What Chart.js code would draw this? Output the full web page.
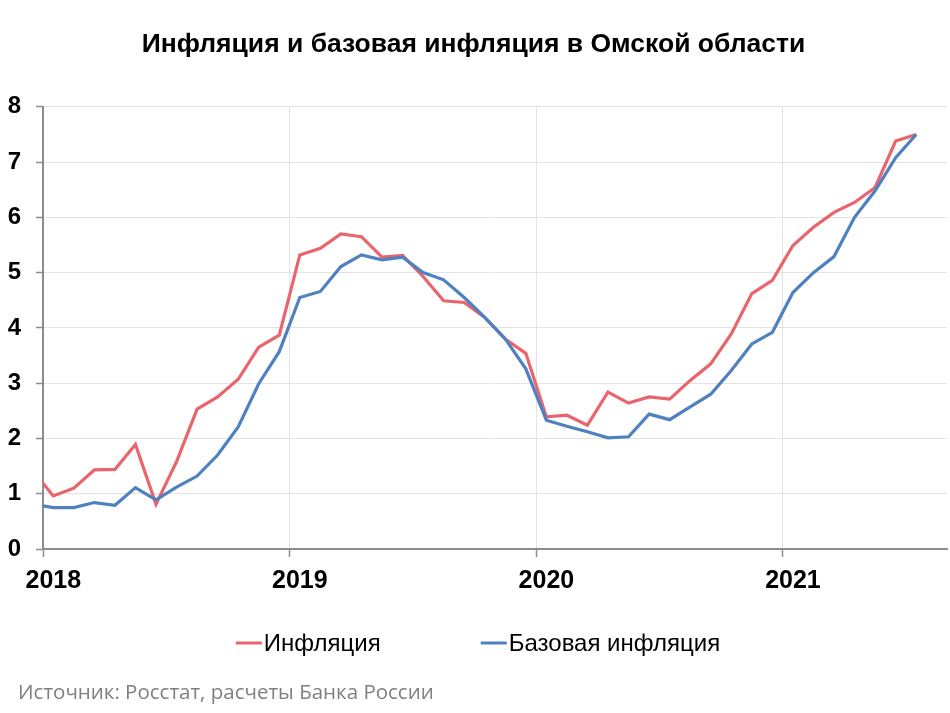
<!DOCTYPE html>
<html><head><meta charset="utf-8">
<script src="https://cdn.jsdelivr.net/npm/chart.js@4/dist/chart.umd.min.js"></script>
<style>html,body{margin:0;padding:0;background:#fff}canvas{display:block}</style>
</head><body>
<canvas id="c" width="950" height="713"></canvas>
<script>
const TITLE = 'Инфляция и базовая инфляция в Омской области';
const SOURCE = 'Источник: Росстат, расчеты Банка России';
const seriesNames = ['Инфляция', 'Базовая инфляция'];

const months = [
  '2017-12',
  '2018-01','2018-02','2018-03','2018-04','2018-05','2018-06','2018-07','2018-08','2018-09','2018-10','2018-11','2018-12',
  '2019-01','2019-02','2019-03','2019-04','2019-05','2019-06','2019-07','2019-08','2019-09','2019-10','2019-11','2019-12',
  '2020-01','2020-02','2020-03','2020-04','2020-05','2020-06','2020-07','2020-08','2020-09','2020-10','2020-11','2020-12',
  '2021-01','2021-02','2021-03','2021-04','2021-05','2021-06','2021-07'
];
const inflation = [
  1.42,
  0.96, 1.10, 1.43, 1.44, 1.89, 0.81, 1.58, 2.53, 2.75, 3.07, 3.65, 3.87,
  5.32, 5.44, 5.70, 5.65, 5.28, 5.31, 4.93, 4.49, 4.46, 4.19, 3.80, 3.54,
  2.39, 2.42, 2.24, 2.84, 2.64, 2.75, 2.71, 3.05, 3.35, 3.89, 4.62, 4.86,
  5.49, 5.82, 6.09, 6.27, 6.54, 7.38, 7.50
];
const coreInflation = [
  0.81,
  0.75, 0.75, 0.84, 0.79, 1.11, 0.89, 1.12, 1.32, 1.70, 2.21, 2.99, 3.57,
  4.55, 4.66, 5.11, 5.32, 5.23, 5.28, 5.00, 4.87, 4.55, 4.19, 3.80, 3.26,
  2.33, 2.22, 2.12, 2.01, 2.03, 2.44, 2.34, 2.57, 2.80, 3.23, 3.71, 3.92,
  4.64, 5.00, 5.29, 6.00, 6.48, 7.08, 7.50
];
const yearTicks = [2018, 2019, 2020, 2021];
const yTicks = [0, 1, 2, 3, 4, 5, 6, 7, 8];

const BASE_YEAR = 2018;
function monthPos(s) {
  const [y, m] = s.split('-').map(Number);
  return (y - BASE_YEAR) * 12 + (m - 1) + 0.5;
}
function toPoints(vals) {
  return vals.map((v, i) => ({ x: monthPos(months[i]), y: v }));
}

const RED = '#ea646c';
const BLUE = '#4f80bf';
const FONT = "'Liberation Sans', Arial, sans-serif";

const customLegend = {
  id: 'customLegend',
  afterDraw(chart) {
    const ctx = chart.ctx;
    ctx.save();
    ctx.font = '24px ' + FONT;
    const ds = chart.data.datasets;
    const lineW = 26, gapTxt = 2, gapItems = 100;
    const widths = ds.map(d => lineW + gapTxt + ctx.measureText(d.label).width);
    const total = widths.reduce((a, b) => a + b, 0) + gapItems * (ds.length - 1);
    let x = chart.width / 2 - total / 2 + 3;
    const y = 643;
    ds.forEach((d, i) => {
      ctx.strokeStyle = d.borderColor;
      ctx.lineWidth = 3;
      ctx.beginPath();
      ctx.moveTo(x, y);
      ctx.lineTo(x + lineW, y);
      ctx.stroke();
      ctx.fillStyle = '#000';
      ctx.textBaseline = 'middle';
      ctx.textAlign = 'left';
      ctx.fillText(d.label, x + lineW + gapTxt, y + 1);
      x += widths[i] + gapItems;
    });
    ctx.font = "20.5px 'Open Sans', sans-serif";
    ctx.fillStyle = '#7f7f7f';
    ctx.textBaseline = 'middle';
    ctx.fillText(SOURCE, 18, 693);
    ctx.restore();
  }
};

new Chart(document.getElementById('c'), {
  type: 'line',
  data: {
    datasets: [
      { label: seriesNames[0], data: toPoints(inflation), borderColor: RED, backgroundColor: RED,
        borderWidth: 3.2, pointRadius: 0, tension: 0, order: 2 },
      { label: seriesNames[1], data: toPoints(coreInflation), borderColor: BLUE, backgroundColor: BLUE,
        borderWidth: 3.2, pointRadius: 0, tension: 0, order: 1 }
    ]
  },
  options: {
    responsive: false,
    animation: false,
    devicePixelRatio: 1,
    layout: { padding: { left: 0, right: 3, top: 0, bottom: 0 } },
    plugins: {
      legend: { display: false },
      tooltip: { enabled: false },
      title: {
        display: true, text: TITLE, color: '#000',
        font: { family: FONT, size: 26.5, weight: 'bold' },
        padding: { top: 29, bottom: 46 }
      }
    },
    scales: {
      x: {
        type: 'linear', min: 0, max: 44,
        afterBuildTicks: s => { s.ticks = yearTicks.map(y => ({ value: (y - BASE_YEAR) * 12 })); },
        afterFit: s => { s.height = 164; },
        ticks: {
          callback: v => String(BASE_YEAR + v / 12),
          color: '#000', font: { family: FONT, size: 25, weight: 'bold' },
          padding: 9, labelOffset: 10.3, maxRotation: 0, autoSkip: false
        },
        grid: { color: '#e3e3e3', lineWidth: 1, tickColor: '#8c8c8c', tickLength: 8, tickWidth: 1.5 },
        border: { color: '#8c8c8c', width: 2 }
      },
      y: {
        min: 0, max: 8,
        afterBuildTicks: s => { s.ticks = yTicks.map(v => ({ value: v })); },
        afterFit: s => { s.width = 43; },
        ticks: {
          color: '#000', font: { family: FONT, size: 24, weight: 'bold' }, padding: 15
        },
        grid: { color: '#e3e3e3', lineWidth: 1, tickColor: '#8c8c8c', tickLength: 7, tickWidth: 1.5 },
        border: { color: '#8c8c8c', width: 2 }
      }
    }
  },
  plugins: [customLegend]
});
</script>
</body></html>
